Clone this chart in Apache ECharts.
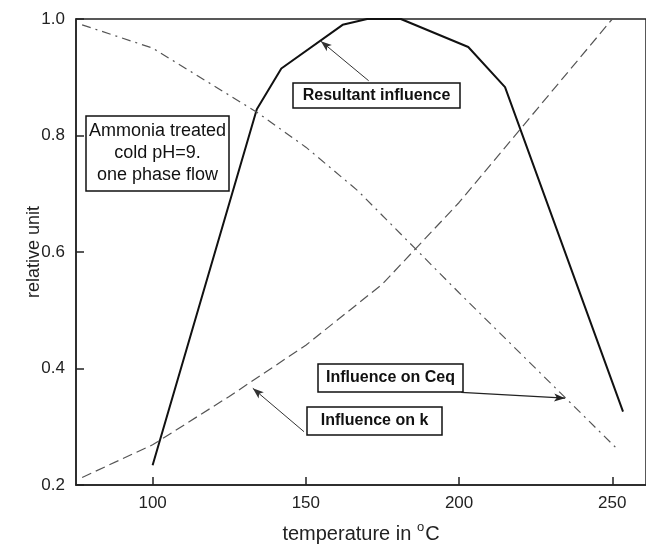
<!DOCTYPE html>
<html>
<head>
<meta charset="utf-8">
<script src="https://cdn.jsdelivr.net/npm/echarts@6/dist/echarts.min.js"></script>
<style>html,body{margin:0;padding:0;background:#fff}#c{width:646px;height:551px}</style>
</head>
<body>
<div id="c"></div>
<script>
// ---- data ----
var resultantT = [100, 134, 142, 162, 170, 181, 203, 215, 253.5];
var resultantV = [0.234, 0.845, 0.915, 0.99, 1.0, 1.0, 0.952, 0.883, 0.326];
var ceqT = [77, 100, 117, 134, 150, 167, 200, 251];
var ceqV = [0.99, 0.95, 0.895, 0.84, 0.78, 0.705, 0.53, 0.265];
var kT = [77, 100, 125, 150, 175, 200, 250];
var kV = [0.213, 0.269, 0.352, 0.44, 0.545, 0.685, 1.0];
var xTicks = [100, 150, 200, 250];
var yTicks = [0.2, 0.4, 0.6, 0.8, 1.0];

function pairs(t, v) { return t.map(function (x, i) { return [x, v[i]]; }); }

var FONT = '"Liberation Sans", Arial, sans-serif';
var chart = echarts.init(document.getElementById('c'), null, {renderer: 'canvas'});

function arrow(from, to) {
  return [{coord: from, symbol: 'none'}, {coord: to, symbol: 'arrow', symbolSize: [6, 11]}];
}

function box(x, y, w, h, text, style) {
  return {
    type: 'group', x: x, y: y, silent: true,
    children: [
      {type: 'rect', shape: {x: 0, y: 0, width: w, height: h},
       style: {fill: '#fff', stroke: '#111', lineWidth: 1.5}},
      {type: 'text', x: w / 2, y: h / 2,
       style: {text: text, align: 'center', verticalAlign: 'middle',
         fill: '#111', font: style.font, lineHeight: style.lineHeight || 20}}
    ]
  };
}

chart.setOption({
  animation: false,
  backgroundColor: '#fff',
  grid: {left: 76, right: -8, top: 19, bottom: 66, show: true, borderColor: '#222', borderWidth: 1.5, containLabel: false},
  xAxis: {
    type: 'value', min: 75, max: 261,
    name: '{t|temperature in }{s|o}{t|C}', nameLocation: 'middle', nameGap: 36,
    nameTextStyle: {rich: {
      t: {fontSize: 20, fontFamily: FONT, color: '#222', verticalAlign: 'bottom'},
      s: {fontSize: 13, fontFamily: FONT, color: '#222', verticalAlign: 'top', padding: [0, 1, 10, 0]}
    }},
    axisLine: {show: true, lineStyle: {color: '#222', width: 1.5}},
    axisTick: {show: true, inside: true, length: 8, customValues: xTicks, lineStyle: {color: '#222', width: 1.5}},
    axisLabel: {customValues: xTicks, fontSize: 17, fontFamily: FONT, color: '#222', margin: 10},
    splitLine: {show: false}
  },
  yAxis: {
    type: 'value', min: 0.2, max: 1.0, interval: 0.2,
    name: 'relative unit', nameLocation: 'middle', nameGap: 33, nameMoveOverlap: false,
    nameTextStyle: {fontSize: 18, fontFamily: FONT, color: '#222'},
    axisLine: {show: true, lineStyle: {color: '#222', width: 1.5}},
    axisTick: {show: true, inside: true, length: 8, lineStyle: {color: '#222', width: 1.5}},
    axisLabel: {fontSize: 17, fontFamily: FONT, color: '#222', margin: 11,
      formatter: function (v) { return v.toFixed(1); }},
    splitLine: {show: false}
  },
  series: [
    {
      name: 'Resultant influence', type: 'line', data: pairs(resultantT, resultantV),
      symbol: 'none', lineStyle: {color: '#111', width: 2}, silent: true,
      markLine: {silent: true, label: {show: false}, lineStyle: {color: '#333', width: 1, type: 'solid'},
        data: [arrow([170.5, 0.894], [154.9, 0.962])]}
    },
    {
      name: 'Influence on Ceq', type: 'line', data: pairs(ceqT, ceqV),
      symbol: 'none', lineStyle: {color: '#555', width: 1.2, type: [9, 5, 2, 5]}, silent: true,
      markLine: {silent: true, label: {show: false}, lineStyle: {color: '#222', width: 1.2, type: 'solid'},
        data: [arrow([200.7, 0.359], [234.6, 0.349])]}
    },
    {
      name: 'Influence on k', type: 'line', data: pairs(kT, kV),
      symbol: 'none', lineStyle: {color: '#555', width: 1.2, type: [10, 5]}, silent: true,
      markLine: {silent: true, label: {show: false}, lineStyle: {color: '#333', width: 1, type: 'solid'},
        data: [arrow([149.4, 0.2915], [132.7, 0.366])]}
    }
  ],
  graphic: [
    box(86, 116, 143, 75, 'Ammonia treated\ncold pH=9.\none phase flow', {font: '18px ' + FONT, lineHeight: 22}),
    box(293, 83, 167, 25, 'Resultant influence', {font: 'bold 16px ' + FONT}),
    box(318, 364, 145, 28, 'Influence on Ceq', {font: 'bold 16px ' + FONT}),
    box(307, 407, 135, 28, 'Influence on k', {font: 'bold 16px ' + FONT})
  ]
});
</script>
</body>
</html>
